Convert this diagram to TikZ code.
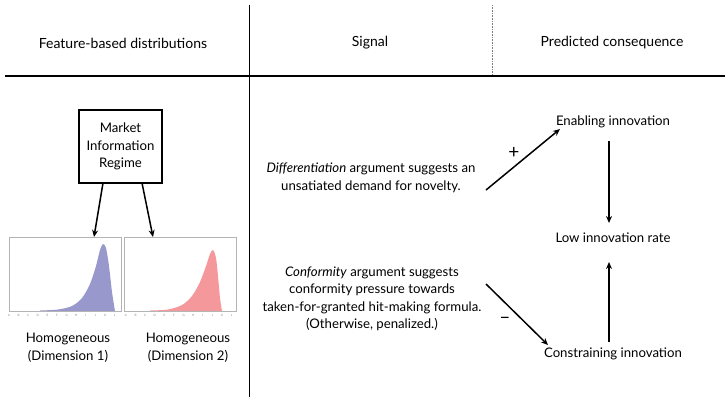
\documentclass[tikz,border=0pt]{standalone}
\usepackage{fontspec}
\setmainfont{Lato}
\usetikzlibrary{arrows.meta,calc}
\definecolor{histblue}{RGB}{152,152,204}
\definecolor{histred}{RGB}{245,152,156}
\definecolor{framegray}{RGB}{180,180,180}
\tikzset{
  hdr/.style={font=\fontsize{14}{16}\selectfont, anchor=center},
  txt/.style={font=\fontsize{13.2}{17.5}\selectfont, align=center, anchor=center, inner sep=1pt},
  arr/.style={-{Stealth[length=7pt,width=6pt]}, line width=1.5pt},
  hframe/.style={draw=framegray, line width=0.6pt, minimum width=112pt, minimum height=74pt, inner sep=0pt},
  ax/.style={font=\fontsize{3}{3}\selectfont, text=gray, inner sep=0pt},
  sign/.style={font=\fontsize{19}{19}\selectfont, inner sep=0pt}
}
\begin{document}
\begin{tikzpicture}[x=1pt,y=-1pt]
\useasboundingbox (0,0) rectangle (725,397);
% grid lines
\draw[line width=0.8pt] (249,5) -- (249,397);
\draw[densely dotted, gray, line width=0.6pt] (492,5) -- (492,76);
\draw[line width=1.6pt] (5,76) -- (725,76);
% headers
\node[hdr] (h1) at (123,43) {Feature-based distributions};
\node[hdr] (h2) at (370,43) {Signal};
\node[hdr] (h3) at (612,43) {Predicted consequence};
% market box
\node[draw, line width=1.3pt, minimum width=83pt, minimum height=73pt, txt, inner sep=0pt] (mir) at (120.5,146.5) {Market\\Information\\Regime};
% histograms
\fill[histblue] (40,311) -- plot[smooth] coordinates {(40,310.5) (58,309.5) (72,306) (82,298) (90,284) (96,266) (100,250) (103,244) (106,248) (109,266) (112,292) (115,311)} -- cycle;
\fill[histred] (150,311) -- plot[smooth] coordinates {(150,310.5) (168,309.5) (182,305) (192,296) (200,282) (206,266) (210,254) (213,250) (216,258) (218,276) (220,298) (222,311)} -- cycle;
\node[hframe] (f1) at (65,274) {};
\node[hframe] (f2) at (180.5,274) {};
\foreach \l [count=\i] in {A,B,C,D,E,F,G,H,I,J,K,L} {
  \node[ax] at ({9+(\i-1)*9.6},315) {\l};
  \node[ax] at ({126+(\i-1)*9.6},315) {\l};
}
\coordinate (t1) at (94,237);
\coordinate (t2) at (153,237);
\draw[arr] (103,183) -- (t1);
\draw[arr] (142,183) -- (t2);
\node[txt] (d1) at (68,347.5) {Homogeneous\\(Dimension 1)};
\node[txt] (d2) at (188,347.5) {Homogeneous\\(Dimension 2)};
% signal texts
\node[txt] (diff) at (371,178) {\textit{Differentiation} argument suggests an\\unsatiated demand for novelty.};
\node[txt] (conf) at (372,299) {\textit{Conformity} argument suggests\\conformity pressure towards\\taken-for-granted hit-making formula.\\(Otherwise, penalized.)};
% consequences
\node[txt] (en) at (613,122) {Enabling innovation};
\node[txt] (low) at (613,238) {Low innovation rate};
\node[txt] (con) at (613,354) {Constraining innovation};
\coordinate (a1s) at (486,190);
\coordinate (a1e) at (560,129);
\coordinate (a2s) at (486,284);
\coordinate (a2e) at (548,345);
\coordinate (v1s) at (609,141);
\coordinate (v1e) at (609,223);
\coordinate (v2s) at (609,342);
\coordinate (v2e) at (609,262);
\draw[arr] (a1s) -- (a1e);
\draw[arr] (a2s) -- (a2e);
\draw[arr] (v1s) -- (v1e);
\draw[arr] (v2s) -- (v2e);
\node[sign] (plus) at (514,153) {+};
\node[sign] (minus) at (505,320) {\textendash};
\end{tikzpicture}
\end{document}
